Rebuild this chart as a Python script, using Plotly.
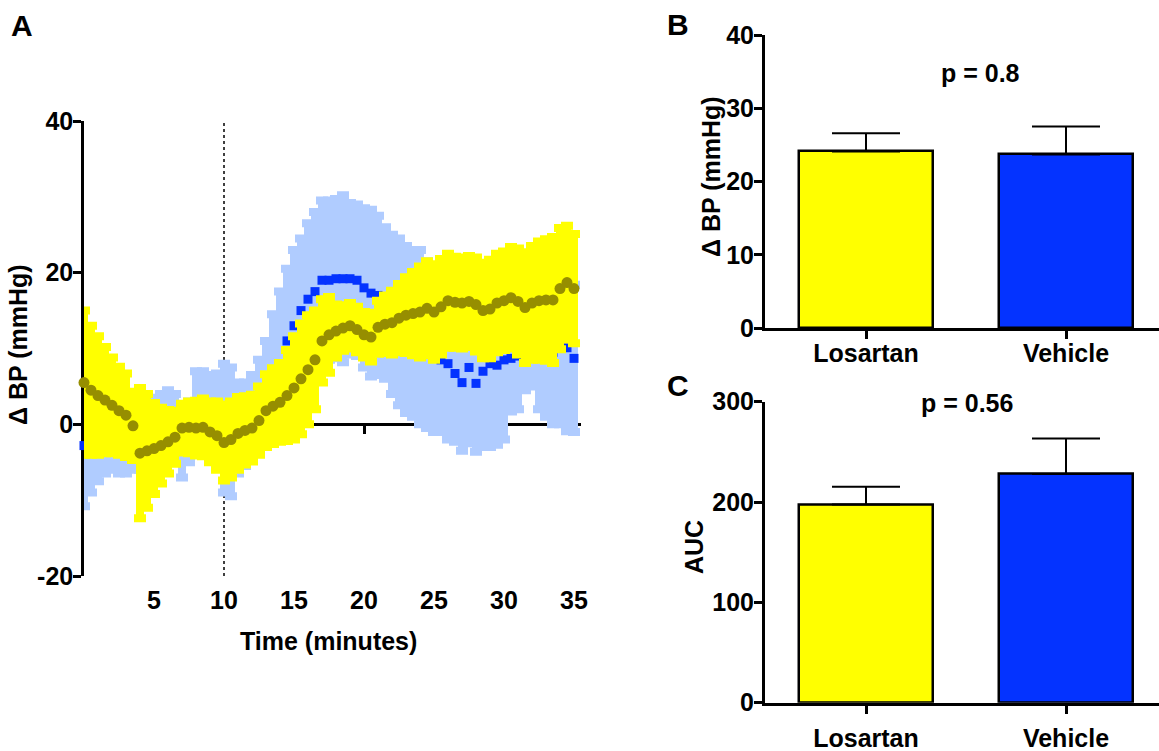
import plotly.graph_objects as go

# ---------------- data ----------------
time_min = [0, 0.5, 1, 1.5, 2, 2.5, 3, 3.5, 4, 4.5,
            5, 5.5, 6, 6.5, 7, 7.5, 8, 8.5, 9, 9.5,
            10, 10.5, 11, 11.5, 12, 12.5, 13, 13.5, 14, 14.5,
            15, 15.5, 16, 16.5, 17, 17.5, 18, 18.5, 19, 19.5,
            20, 20.5, 21, 21.5, 22, 22.5, 23, 23.5, 24, 24.5,
            25, 25.5, 26, 26.5, 27, 27.5, 28, 28.5, 29, 29.5,
            30, 30.5, 31, 31.5, 32, 32.5, 33, 33.5, 34, 34.5, 35]

losartan_mean = [5.5, 4.5, 3.8, 3.2, 2.5, 1.8, 1.2, -0.2, -3.8, -3.5,
                 -3.2, -2.8, -2.3, -1.7, -0.5, -0.4, -0.5, -0.4, -1.0, -1.5,
                 -2.4, -2.0, -1.2, -0.8, -0.5, 0.5, 1.8, 2.4, 2.9, 3.8,
                 4.8, 6.0, 7.2, 8.5, 11.0, 11.8, 12.3, 12.7, 13.0, 12.5,
                 11.8, 11.5, 12.8, 13.2, 13.4, 14.0, 14.4, 14.6, 14.8, 15.3,
                 14.8, 15.5, 16.3, 16.1, 16.0, 16.2, 15.8, 15.0, 15.2, 16.0,
                 16.3, 16.7, 16.2, 15.4, 16.0, 16.3, 16.4, 16.4, 17.9, 18.7, 17.9]

losartan_sem = [9.5, 8.5, 7.8, 7.0, 6.3, 5.8, 5.5, 4.5, 8.6, 7.5,
                6.0, 5.0, 4.2, 3.5, 3.2, 3.4, 3.6, 3.8, 4.0, 4.5,
                5.0, 5.0, 4.8, 4.5, 4.4, 4.5, 4.8, 5.0, 5.2, 6.0,
                6.8, 7.3, 7.2, 6.5, 5.5, 5.0, 3.5, 3.0, 3.0, 3.0,
                3.0, 3.2, 3.5, 3.8, 4.2, 4.5, 5.0, 5.5, 6.0, 6.2,
                6.3, 6.3, 6.2, 6.0, 6.0, 6.0, 6.2, 6.3, 6.5, 6.5,
                6.5, 6.7, 7.0, 7.3, 7.5, 7.8, 8.0, 8.3, 8.0, 7.5, 7.2]

vehicle_mean = [-2.8, -2.0, -1.5, -1.0, -1.5, -2.0, -3.0, -2.0, -1.0, 0.0,
                0.5, 1.0, 1.0, 0.5, -2.5, -1.0, 1.5, 2.0, 2.0, 2.2,
                -0.5, -1.0, -0.5, 0.0, 1.0, 2.5, 4.5, 6.5, 8.0, 11.0,
                13.0, 15.0, 16.5, 17.5, 19.0, 19.0, 19.2, 19.2, 19.2, 19.0,
                18.0, 17.3, 17.0, 16.0, 14.5, 13.5, 12.5, 12.0, 11.5, 10.5,
                9.5, 8.5, 8.0, 6.7, 5.5, 7.5, 5.4, 7.0, 8.0, 7.8,
                8.5, 8.7, 9.0, 9.0, 9.0, 9.5, 9.5, 9.5, 10.0, 10.1, 8.7]

vehicle_sem = [8.0, 7.0, 6.0, 5.5, 4.5, 4.5, 3.5, 4.0, 5.0, 3.5,
               3.0, 3.0, 3.5, 3.5, 4.5, 4.0, 5.5, 5.0, 4.5, 4.5,
               8.5, 8.5, 6.0, 5.5, 5.5, 6.0, 6.5, 8.0, 9.5, 9.5,
               10.0, 9.5, 10.0, 10.5, 10.5, 10.5, 10.5, 11.0, 10.0, 10.0,
               10.5, 11.0, 10.5, 10.0, 10.5, 11.0, 11.0, 11.0, 11.5, 11.0,
               10.5, 9.5, 10.0, 9.0, 9.0, 10.0, 9.0, 10.0, 11.0, 10.5,
               10.5, 7.0, 7.0, 4.5, 4.0, 7.5, 8.5, 9.5, 10.0, 11.0, 9.7]

groups = ["Losartan", "Vehicle"]
bp_mean = [24.1, 23.7]
bp_sem = [2.5, 3.8]
auc_mean = [197.5, 228.0]
auc_sem = [17.8, 35.3]

time_ticks = [5, 10, 15, 20, 25, 30, 35]
bp_ticks_a = [-20, 0, 20, 40]
bp_ticks_b = [0, 10, 20, 30, 40]
auc_ticks = [0, 100, 200, 300]

# ---------------- style ----------------
W, H = 1159, 751
FONT = "Liberation Sans"
YELLOW = "#FFFF00"
BLUE = "#0433FF"
LIGHT_BLUE = "#B0CCFF"
OLIVE = "#968E00"
FS = 25


def fx(p):
    return p / W


def fy(p):
    return 1 - p / H


tfont = dict(family=FONT, size=FS, color="black", weight="bold")

fig = go.Figure()

# Panel A
fig.add_trace(go.Scatter(
    x=time_min, y=vehicle_mean, mode="markers",
    marker=dict(symbol="square", size=9, color=BLUE, line=dict(width=0)),
    error_y=dict(type="data", array=vehicle_sem, color=LIGHT_BLUE, thickness=8, width=6),
    cliponaxis=False, showlegend=False, hoverinfo="skip", xaxis="x", yaxis="y"))
fig.add_trace(go.Scatter(
    x=time_min, y=losartan_mean, mode="markers",
    marker=dict(symbol="circle", size=11, color=OLIVE, line=dict(width=0)),
    error_y=dict(type="data", array=losartan_sem, color=YELLOW, thickness=8, width=6),
    cliponaxis=False, showlegend=False, hoverinfo="skip", xaxis="x", yaxis="y"))
# invisible anchor trace for the zero-line axis
fig.add_trace(go.Scatter(x=[time_min[0]], y=[0], mode="markers", marker=dict(opacity=0),
                         showlegend=False, hoverinfo="skip", xaxis="x2", yaxis="y"))

# Panel B
fig.add_trace(go.Bar(
    x=groups, y=bp_mean, width=0.67,
    marker=dict(color=[YELLOW, BLUE], line=dict(color="black", width=2.5)),
    error_y=dict(type="data", symmetric=False, array=bp_sem, arrayminus=[0, 0],
                 color="black", thickness=2, width=34),
    showlegend=False, hoverinfo="skip", xaxis="x3", yaxis="y3"))

# Panel C
fig.add_trace(go.Bar(
    x=groups, y=auc_mean, width=0.67,
    marker=dict(color=[YELLOW, BLUE], line=dict(color="black", width=2.5)),
    error_y=dict(type="data", symmetric=False, array=auc_sem, arrayminus=[0, 0],
                 color="black", thickness=2, width=34),
    showlegend=False, hoverinfo="skip", xaxis="x4", yaxis="y4"))

xdomA = [fx(84), fx(581)]
xrangeA = [0, 35.5]
yrangeA = [-20, 40]
ydomA = [fy(576), fy(121)]
zero_pos = ydomA[0] + (0 - yrangeA[0]) / (yrangeA[1] - yrangeA[0]) * (ydomA[1] - ydomA[0])

common = dict(showgrid=False, zeroline=False, automargin=False)

fig.update_layout(
    width=W, height=H,
    margin=dict(l=0, r=0, t=0, b=0, pad=0, autoexpand=False),
    paper_bgcolor="white", plot_bgcolor="rgba(0,0,0,0)",
    font=dict(family=FONT, color="black"),
    bargap=0,
    xaxis=dict(domain=xdomA, range=xrangeA, anchor="y", showline=False,
               tickvals=time_ticks, ticks="", ticklabelstandoff=7, tickfont=tfont, **common),
    xaxis2=dict(domain=xdomA, range=xrangeA, overlaying="x", anchor="free", position=zero_pos,
                showline=True, linewidth=2.5, linecolor="black",
                tickvals=time_ticks, ticks="outside", ticklen=8, tickwidth=2.5, tickcolor="black",
                showticklabels=False, layer="below traces", **common),
    yaxis=dict(domain=ydomA, range=yrangeA, anchor="x", showline=True, linewidth=2.5,
               linecolor="black", tickvals=bp_ticks_a, ticktext=[str(v) for v in bp_ticks_a],
               ticks="outside", ticklen=8, tickwidth=2.5, tickcolor="black",
               ticklabelstandoff=-5, tickfont=tfont, layer="below traces", **common),
    xaxis3=dict(domain=[fx(765), 1.0], range=[-0.505, 1.465], anchor="y3", type="category",
                showline=True, linewidth=3, linecolor="black", ticks="outside", ticklen=8,
                tickwidth=3, tickcolor="black", tickfont=tfont, ticklabelstandoff=-7,
                **common),
    yaxis3=dict(domain=[fy(328), fy(35)], range=[0, 40], anchor="x3", showline=True,
                linewidth=3, linecolor="black", tickvals=bp_ticks_b, ticks="outside",
                ticklen=8, tickwidth=3, tickcolor="black", ticklabelstandoff=-5,
                tickfont=tfont, **common),
    xaxis4=dict(domain=[fx(765), 1.0], range=[-0.505, 1.465], anchor="y4", type="category",
                showline=True, linewidth=3, linecolor="black", ticks="outside", ticklen=8,
                tickwidth=3, tickcolor="black", tickfont=tfont, ticklabelstandoff=3,
                **common),
    yaxis4=dict(domain=[fy(702.7), fy(401.7)], range=[0, 300], anchor="x4", showline=True,
                linewidth=3, linecolor="black", tickvals=auc_ticks, ticks="outside",
                ticklen=8, tickwidth=3, tickcolor="black", ticklabelstandoff=-5,
                tickfont=tfont, **common),
)

# dotted reference line at 10 minutes
fig.add_shape(type="line", xref="x", yref="y", x0=10, x1=10, y0=yrangeA[0], y1=yrangeA[1],
              line=dict(color="black", width=1.5, dash="dot"), layer="below")


def ann(text, x, y, size=FS, angle=0):
    fig.add_annotation(text=text, x=fx(x), y=fy(y), xref="paper", yref="paper",
                       showarrow=False, xanchor="center", yanchor="middle", textangle=angle,
                       font=dict(family=FONT, size=size, color="black", weight="bold"))


ann("A", 22, 26, size=30)
ann("B", 678, 25, size=30)
ann("C", 678, 385, size=30)
ann("Δ BP (mmHg)", 18, 345, angle=-90)
ann("Time (minutes)", 328, 641)
ann("Δ BP (mmHg)", 711, 177, angle=-90)
ann("AUC", 694, 547, angle=-90)
ann("p = 0.8", 980, 73)
ann("p = 0.56", 967, 403)

fig.write_html("out.html")
